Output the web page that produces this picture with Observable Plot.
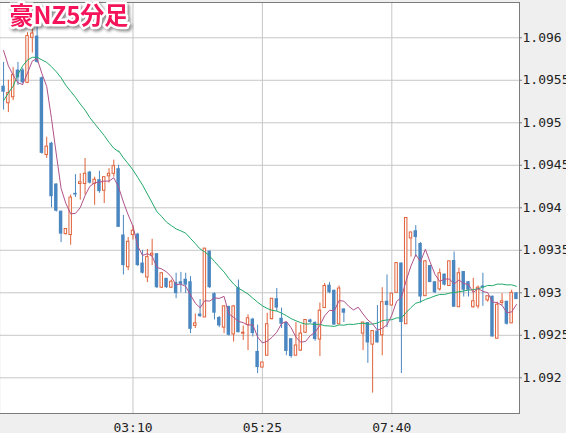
<!DOCTYPE html>
<html>
<head>
<meta charset="utf-8">
<script src="https://cdn.jsdelivr.net/npm/d3@7"></script>
<script src="https://cdn.jsdelivr.net/npm/@observablehq/plot@0.6"></script>
<style>
  html, body { margin: 0; padding: 0; background: #efefef; }
  #chart svg { display: block; }
</style>
</head>
<body>
<div id="chart"></div>
<script>
// ---- data ----
const title = "豪NZ5分足";
const startTime = "00:55";
const barMinutes = 5;

const open = [
1.09543,1.09523,1.09530,1.09562,1.09562,1.09547,1.09600,1.09602,1.09553,1.09462,
1.09476,1.09428,1.09396,1.09369,1.09368,1.09417,1.09428,1.09428,1.09442,1.09428,
1.09433,1.09420,1.09437,1.09440,1.09446,1.09368,1.09330,1.09368,1.09369,1.09335,
1.09318,1.09344,1.09346,1.09306,1.09317,1.09306,1.09312,1.09313,1.09316,1.09313,
1.09261,1.09275,1.09271,1.09349,1.09299,1.09271,1.09259,1.09284,1.09251,1.09306,
1.09252,1.09262,1.09269,1.09231,1.09212,1.09226,1.09269,1.09293,1.09270,1.09265,
1.09246,1.09226,1.09232,1.09253,1.09268,1.09265,1.09245,1.09282,1.09309,1.09303,
1.09263,1.09281,1.09278,1.09278,1.09278,1.09252,1.09265,1.09239,1.09255,1.09250,
1.09290,1.09285,1.09300,1.09335,1.09263,1.09364,1.09373,1.09358,1.09296,1.09332,
1.09313,1.09304,1.09322,1.09308,1.09338,1.09283,1.09325,1.09313,1.09283,1.09284,
1.09308,1.09291,1.09296,1.09246,1.09288,1.09290,1.09264,1.09300];
const high = [
1.09571,1.09550,1.09565,1.09571,1.09564,1.09606,1.09614,1.09636,1.09554,1.09483,
1.09477,1.09428,1.09396,1.09375,1.09415,1.09439,1.09440,1.09458,1.09443,1.09436,
1.09443,1.09436,1.09446,1.09456,1.09450,1.09391,1.09365,1.09379,1.09370,1.09350,
1.09351,1.09363,1.09346,1.09324,1.09317,1.09315,1.09323,1.09324,1.09323,1.09319,
1.09275,1.09292,1.09352,1.09349,1.09300,1.09272,1.09285,1.09284,1.09285,1.09315,
1.09261,1.09274,1.09270,1.09262,1.09218,1.09276,1.09293,1.09305,1.09282,1.09265,
1.09246,1.09265,1.09262,1.09268,1.09269,1.09266,1.09288,1.09311,1.09312,1.09303,
1.09308,1.09281,1.09278,1.09278,1.09278,1.09265,1.09265,1.09255,1.09285,1.09306,
1.09321,1.09299,1.09335,1.09335,1.09388,1.09371,1.09379,1.09359,1.09338,1.09332,
1.09313,1.09328,1.09322,1.09337,1.09348,1.09329,1.09325,1.09313,1.09317,1.09308,
1.09323,1.09296,1.09296,1.09289,1.09299,1.09290,1.09303,1.09300];
const low = [
1.09515,1.09512,1.09526,1.09544,1.09546,1.09546,1.09582,1.09570,1.09463,1.09458,
1.09400,1.09395,1.09359,1.09368,1.09356,1.09412,1.09409,1.09415,1.09428,1.09403,
1.09417,1.09405,1.09429,1.09436,1.09377,1.09321,1.09326,1.09362,1.09331,1.09322,
1.09312,1.09332,1.09305,1.09305,1.09305,1.09305,1.09293,1.09300,1.09299,1.09252,
1.09258,1.09271,1.09271,1.09305,1.09268,1.09259,1.09252,1.09249,1.09242,1.09253,
1.09244,1.09232,1.09248,1.09205,1.09212,1.09226,1.09268,1.09278,1.09258,1.09226,
1.09223,1.09226,1.09231,1.09252,1.09264,1.09243,1.09225,1.09282,1.09299,1.09262,
1.09263,1.09265,1.09278,1.09278,1.09278,1.09232,1.09217,1.09182,1.09241,1.09226,
1.09259,1.09285,1.09300,1.09205,1.09263,1.09342,1.09342,1.09288,1.09296,1.09312,
1.09299,1.09302,1.09308,1.09308,1.09283,1.09283,1.09295,1.09295,1.09282,1.09281,
1.09284,1.09289,1.09248,1.09246,1.09285,1.09262,1.09264,1.09292];
const close = [
1.09536,1.09535,1.09556,1.09553,1.09547,1.09602,1.09605,1.09571,1.09464,1.09472,
1.09413,1.09396,1.09369,1.09375,1.09412,1.09415,1.09430,1.09440,1.09429,1.09433,
1.09419,1.09436,1.09440,1.09449,1.09377,1.09332,1.09360,1.09373,1.09332,1.09323,
1.09342,1.09346,1.09306,1.09323,1.09306,1.09313,1.09299,1.09310,1.09309,1.09257,
1.09264,1.09272,1.09352,1.09306,1.09276,1.09261,1.09284,1.09250,1.09284,1.09253,
1.09253,1.09270,1.09252,1.09212,1.09218,1.09263,1.09293,1.09282,1.09263,1.09231,
1.09225,1.09238,1.09252,1.09268,1.09265,1.09245,1.09279,1.09308,1.09300,1.09262,
1.09305,1.09276,1.09278,1.09278,1.09278,1.09265,1.09241,1.09255,1.09241,1.09289,
1.09285,1.09299,1.09335,1.09265,1.09388,1.09371,1.09365,1.09295,1.09337,1.09312,
1.09300,1.09323,1.09309,1.09337,1.09283,1.09323,1.09303,1.09303,1.09290,1.09306,
1.09306,1.09296,1.09248,1.09286,1.09290,1.09263,1.09300,1.09292];

// moving-average lines before enough bars are on screen
const maFastLead = [1.09585,1.09567,1.09556,1.09547,1.09545];
const maSlowLead = [
1.09526,1.09535,1.09543,1.09557,1.09567,1.09574,1.09577,1.09577,1.09574,1.09571,
1.09566,1.09560,1.09553,1.09544,1.09537,1.09530,1.09522,1.09515,1.09506,1.09499,
1.09492,1.09485,1.09477,1.09470,1.09466];
const maFastPeriod = 5;
const maSlowPeriod = 25;

const yTicks = [1.092,1.0925,1.093,1.0935,1.094,1.0945,1.095,1.0955,1.096];
const yTickLabels = ["1.092","1.0925","1.093","1.0935","1.094","1.0945","1.095","1.0955","1.096"];
const yDomain = [1.09158, 1.096415];
const xTickLabels = ["03:10","05:25","07:40"];

// ---- build table ----
const [sh, sm] = startTime.split(":").map(Number);
const times = open.map((_, i) => {
  const m = sh * 60 + sm + barMinutes * i;
  return String(Math.floor(m / 60)).padStart(2, "0") + ":" + String(m % 60).padStart(2, "0");
});
const rows = times.map((t, i) => ({time: t, open: open[i], high: high[i], low: low[i], close: close[i]}));
const ups = rows.filter(d => d.close >= d.open);
const downs = rows.filter(d => d.close < d.open);
const fastLead = maFastLead.map((v, i) => ({time: times[i], v}));
const slowLead = maSlowLead.map((v, i) => ({time: times[i], v}));

const orange = "#e0623a";
const blue = "#4a87c0";
const magenta = "#b0528a";
const green = "#22a96b";
const mono = "DejaVu Sans Mono, Liberation Mono, monospace";

const chart = Plot.plot({
  width: 566,
  height: 433,
  marginLeft: 0,
  marginRight: 47,
  marginTop: 2,
  marginBottom: 20,
  style: {background: "#efefef", overflow: "visible"},
  x: {type: "band", domain: times, padding: 0.28, label: null},
  y: {domain: yDomain, label: null},
  marks: [
    Plot.frame({fill: "white"}),
    Plot.gridY(yTicks, {stroke: "#c6c6c6", strokeOpacity: 1}),
    Plot.gridX(xTickLabels, {stroke: "#c6c6c6", strokeOpacity: 1}),
    Plot.ruleX(ups, {x: "time", y1: "low", y2: "high", stroke: orange}),
    Plot.ruleX(downs, {x: "time", y1: "low", y2: "high", stroke: blue}),
    Plot.barY(ups, {x: "time", y1: "open", y2: "close", fill: "white", stroke: orange, strokeWidth: 1, insetLeft: 0.5, insetRight: 0.5}),
    Plot.barY(downs, {x: "time", y1: "open", y2: "close", fill: blue}),
    Plot.lineY(slowLead, {x: "time", y: "v", stroke: green, strokeWidth: 1}),
    Plot.lineY(rows, Plot.windowY({k: maSlowPeriod, anchor: "end", strict: true, reduce: "mean"}, {x: "time", y: "close", stroke: green, strokeWidth: 1})),
    Plot.lineY(fastLead, {x: "time", y: "v", stroke: magenta, strokeWidth: 1}),
    Plot.lineY(rows, Plot.windowY({k: maFastPeriod, anchor: "end", strict: true, reduce: "mean"}, {x: "time", y: "close", stroke: magenta, strokeWidth: 1})),
    Plot.frame({stroke: "#7c7c7c", insetLeft: -4}),
    Plot.axisY({anchor: "right", ticks: yTicks, tickFormat: d => yTickLabels[yTicks.indexOf(d)], tickSize: 2, tickPadding: 1, stroke: "#7c7c7c", fill: "#222", fontFamily: mono, fontSize: 13, label: null}),
    Plot.axisX({anchor: "bottom", ticks: xTickLabels, tickSize: 0, tickPadding: 9, fill: "#222", fontFamily: mono, fontSize: 13, label: null}),
    Plot.text([title], {frameAnchor: "top-left", text: d => d, dx: 9, dy: 4, lineAnchor: "top", textAnchor: "start",
      fontSize: 24, fontWeight: "bold", fontFamily: "Noto Sans CJK JP, Noto Sans, sans-serif",
      fill: "#f5145a", stroke: "white", strokeWidth: 5})
  ]
});

document.getElementById("chart").appendChild(chart);
d3.select(chart).selectAll('g[aria-label="text"]').style("filter", "drop-shadow(2px 2px 1.5px rgba(0,0,0,0.45))");
</script>
</body>
</html>
